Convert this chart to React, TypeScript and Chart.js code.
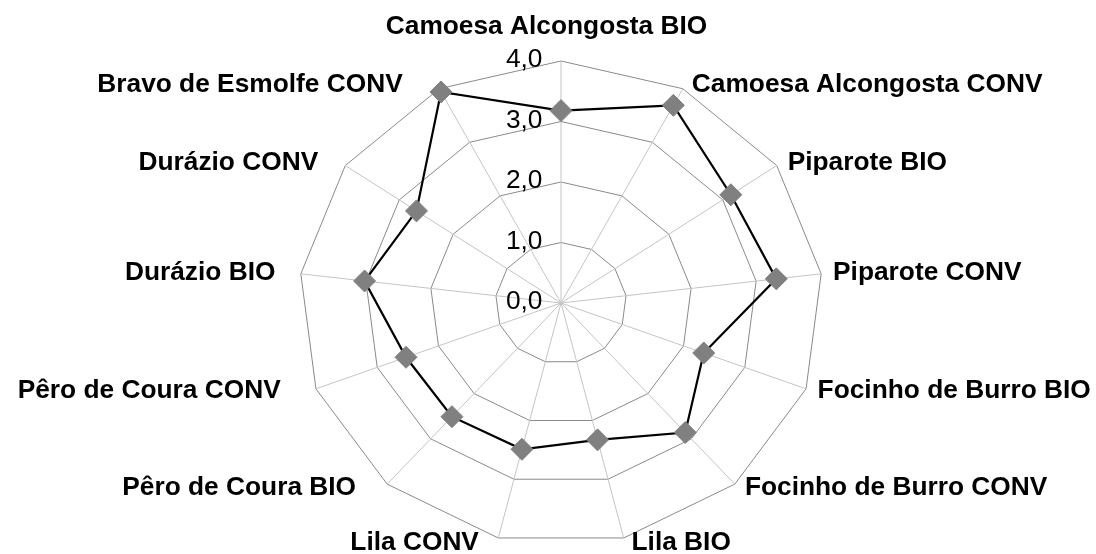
import React, { useEffect, useRef } from 'react';
import { Chart, registerables, RadialLinearScale } from 'chart.js';

// ---- data ----
const CATEGORIES: string[] = [
  'Camoesa Alcongosta BIO',
  'Camoesa Alcongosta CONV',
  'Piparote BIO',
  'Piparote CONV',
  'Focinho de Burro BIO',
  'Focinho de Burro CONV',
  'Lila BIO',
  'Lila CONV',
  'Pêro de Coura BIO',
  'Pêro de Coura CONV',
  'Durázio BIO',
  'Durázio CONV',
  'Bravo de Esmolfe CONV',
];
const VALUES: number[] = [3.18, 3.69, 3.15, 3.31, 2.33, 2.86, 2.33, 2.49, 2.51, 2.53, 3.02, 2.68, 3.94];
const TICK_VALUES: number[] = [0, 1, 2, 3, 4];
const TICK_LABELS: string[] = ['0,0', '1,0', '2,0', '3,0', '4,0'];

// ---- styling ----
const FONT = "'Liberation Sans', Arial, Helvetica, sans-serif";
const FONT_SIZE = 26.3;
const X_STRETCH = 1.083; // the plot area is wider than tall (elliptic net)

class EllipticRadialScale extends (RadialLinearScale as any) {
  static id = 'ellipticRadial';
  static defaults = (RadialLinearScale as any).defaults;
  getPointPosition(index: number, distance: number, additionalAngle = 0) {
    const angle = this.getIndexAngle(index) - Math.PI / 2 + additionalAngle;
    return {
      x: Math.cos(angle) * distance * X_STRETCH + this.xCenter,
      y: Math.sin(angle) * distance + this.yCenter,
      angle,
    };
  }
}

Chart.register(...registerables, EllipticRadialScale as any);

const textPlugin = {
  id: 'radarText',
  afterDraw(chart: any) {
    const scale = chart.scales.r;
    const ctx: CanvasRenderingContext2D = chart.ctx;
    ctx.save();
    ctx.fillStyle = '#000000';
    // tick labels, right-aligned left of the vertical axis
    ctx.font = `${FONT_SIZE}px ${FONT}`;
    ctx.textAlign = 'right';
    ctx.textBaseline = 'middle';
    TICK_VALUES.forEach((v, i) => {
      const d = scale.getDistanceFromCenterForValue(v);
      ctx.fillText(TICK_LABELS[i], scale.xCenter - 18.5, scale.yCenter - d - 1);
    });
    // category labels
    ctx.font = `bold ${FONT_SIZE}px ${FONT}`;
    CATEGORIES.forEach((label, i) => {
      const ang = scale.getIndexAngle(i);
      const s = Math.sin(ang);
      const c = Math.cos(ang);
      const p = scale.getPointPosition(i, scale.drawingArea + 5);
      const w = ctx.measureText(label).width;
      let x = p.x;
      let y = p.y;
      if (Math.abs(s) < 0.05) {
        ctx.textAlign = 'left';
        x = p.x - w / 2 - 0.045 * w;
        y = c > 0 ? p.y - 29 : p.y + 29;
      } else if (s > 0) {
        ctx.textAlign = 'left';
        x = p.x + 6.5;
      } else {
        ctx.textAlign = 'right';
        x = p.x - 6.5 - 0.09 * w;
      }
      ctx.fillText(label, x, y);
    });
    ctx.restore();
  },
};

export default function App() {
  const canvasRef = useRef<HTMLCanvasElement | null>(null);

  useEffect(() => {
    const canvas = canvasRef.current;
    if (!canvas) return;
    const chart = new Chart(canvas, {
      type: 'radar',
      data: {
        labels: CATEGORIES,
        datasets: [
          {
            data: VALUES,
            borderColor: '#000000',
            borderWidth: 2.2,
            backgroundColor: 'rgba(0,0,0,0)',
            fill: false,
            tension: 0,
            pointStyle: 'rectRot',
            pointRadius: 11,
            pointHoverRadius: 11,
            pointBackgroundColor: '#808080',
            pointBorderColor: '#808080',
            pointBorderWidth: 1,
          },
        ],
      },
      options: {
        animation: false,
        responsive: false,
        maintainAspectRatio: false,
        events: [],
        layout: { padding: { left: 27, right: 0, top: 61, bottom: 9 } },
        plugins: {
          legend: { display: false },
          tooltip: { enabled: false },
        },
        scales: {
          r: {
            type: 'ellipticRadial',
            min: 0,
            max: 4,
            ticks: { display: false, stepSize: 1 },
            pointLabels: { display: false },
            grid: { color: '#8a8a8a', lineWidth: 1 },
            angleLines: { color: '#c4c4c4', lineWidth: 1 },
          },
        },
      } as any,
      plugins: [textPlugin],
    });
    return () => chart.destroy();
  }, []);

  return (
    <canvas
      ref={canvasRef}
      width={1096}
      height={554}
      style={{
        position: 'absolute',
        left: 0,
        top: 0,
        width: '1096px',
        height: '554px',
        display: 'block',
        background: '#ffffff',
      }}
    />
  );
}
